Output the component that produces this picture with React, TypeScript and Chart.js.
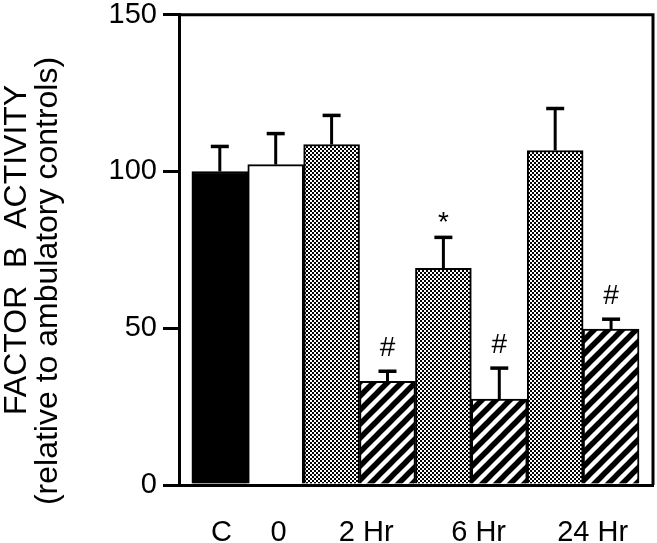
import React, { useEffect, useRef } from "react";
import { Chart, registerables } from "chart.js";

Chart.register(...registerables);

// ---- data ----
const barPositions = [0, 1, 2, 3, 4, 5, 6, 7];
const barGroups = ["C", "0", "2 Hr", "2 Hr", "6 Hr", "6 Hr", "24 Hr", "24 Hr"];
const barValues = [100, 102.2, 108.6, 33.1, 69.1, 27.4, 106.7, 49.7];
const barErrors = [8.3, 10.2, 9.6, 3.5, 10.2, 10.2, 13.7, 3.5];
const barFills = ["black", "white", "dots", "stripes", "dots", "stripes", "dots", "stripes"];
const barMarks = ["", "", "", "#", "*", "#", "", "#"];
const xTickPositions = [0.03, 1.05, 2.62, 4.63, 6.67];
const xTickLabels = ["C", "0", "2 Hr", "6 Hr", "24 Hr"];
const yTicks = [0, 50, 100, 150];
const yTitle = ["FACTOR  B  ACTIVITY", "(relative to ambulatory controls)       "];

const FONT = "'Liberation Sans', Arial, Helvetica, sans-serif";

function makeDots(): CanvasPattern | string {
  const c = document.createElement("canvas");
  c.width = 4;
  c.height = 4;
  const g = c.getContext("2d")!;
  g.fillStyle = "#ffffff";
  g.fillRect(0, 0, 4, 4);
  g.fillStyle = "#000000";
  g.fillRect(0, 0, 2, 2);
  g.fillRect(2, 2, 2, 2);
  return g.createPattern(c, "repeat") || "#888";
}

function makeStripes(): CanvasPattern | string {
  const s = 14;
  const c = document.createElement("canvas");
  c.width = s;
  c.height = s;
  const g = c.getContext("2d")!;
  g.fillStyle = "#ffffff";
  g.fillRect(0, 0, s, s);
  g.strokeStyle = "#000000";
  g.lineWidth = 5.5;
  g.lineCap = "square";
  for (const off of [-s, 0, s]) {
    g.beginPath();
    g.moveTo(off - 2, s + 2);
    g.lineTo(off + s + 2, -2);
    g.stroke();
  }
  return g.createPattern(c, "repeat") || "#444";
}

const frameAndErrors = {
  id: "frameAndErrors",
  afterDatasetsDraw(chart: any) {
    const ctx = chart.ctx as CanvasRenderingContext2D;
    const y = chart.scales.y;
    const meta = chart.getDatasetMeta(0);
    ctx.save();
    ctx.strokeStyle = "#000";
    ctx.fillStyle = "#000";
    meta.data.forEach((el: any, i: number) => {
      const top = y.getPixelForValue(barValues[i]);
      const cap = y.getPixelForValue(barValues[i] + barErrors[i]);
      ctx.lineWidth = 3;
      ctx.beginPath();
      ctx.moveTo(el.x, top);
      ctx.lineTo(el.x, cap);
      ctx.stroke();
      ctx.lineWidth = 3.5;
      ctx.beginPath();
      ctx.moveTo(el.x - 9, cap + 1);
      ctx.lineTo(el.x + 9, cap + 1);
      ctx.stroke();
      const mark = barMarks[i];
      if (mark) {
        ctx.font = `28px ${FONT}`;
        ctx.textAlign = "center";
        ctx.textBaseline = "alphabetic";
        const m = ctx.measureText(mark);
        ctx.fillText(mark, el.x, cap - 14 - m.actualBoundingBoxDescent);
      }
    });
    ctx.restore();
  },
  afterDraw(chart: any) {
    const ctx = chart.ctx as CanvasRenderingContext2D;
    const a = chart.chartArea;
    ctx.save();
    ctx.strokeStyle = "#000";
    ctx.lineWidth = 3;
    ctx.beginPath();
    ctx.moveTo(a.left, a.top);
    ctx.lineTo(a.right, a.top);
    ctx.lineTo(a.right, a.bottom);
    ctx.stroke();
    ctx.restore();
  },
};

export default function App() {
  const ref = useRef<HTMLCanvasElement>(null);

  useEffect(() => {
    if (!ref.current) return;
    const dots = makeDots();
    const stripes = makeStripes();
    const fills = barFills.map((f) =>
      f === "dots" ? dots : f === "stripes" ? stripes : f === "black" ? "#000000" : "#ffffff"
    );
    const chart = new Chart(ref.current, {
      type: "bar",
      data: {
        datasets: [
          {
            label: "Factor B activity",
            data: barPositions.map((x, i) => ({ x, y: barValues[i] })) as any,
            backgroundColor: fills as any,
            borderColor: "#000000",
            borderWidth: 2,
            categoryPercentage: 1,
            barPercentage: 1,
          },
        ],
      },
      options: {
        responsive: false,
        animation: false,
        layout: { padding: { top: 14, right: 4, left: 0, bottom: 0 } },
        plugins: {
          legend: { display: false },
          tooltip: { enabled: false },
        },
        scales: {
          x: {
            type: "linear",
            min: -0.73,
            max: 7.75,
            offset: false,
            grid: { display: false, offset: false },
            border: { display: true, color: "#000", width: 3 },
            afterBuildTicks: (s: any) => {
              s.ticks = xTickPositions.map((v) => ({ value: v }));
            },
            afterFit: (s: any) => {
              s.height = 58;
            },
            ticks: {
              color: "#000",
              padding: 23,
              maxRotation: 0,
              autoSkip: false,
              font: { family: FONT, size: 29 },
              callback: (v: any) => {
                const idx = xTickPositions.indexOf(Number(v));
                return idx >= 0 ? xTickLabels[idx] : "";
              },
            },
          },
          y: {
            min: 0,
            max: 150,
            afterBuildTicks: (s: any) => {
              s.ticks = yTicks.map((v) => ({ value: v }));
            },
            afterFit: (s: any) => {
              s.width = 179;
            },
            grid: {
              drawOnChartArea: false,
              drawTicks: true,
              tickLength: 16,
              color: "#000",
              lineWidth: 3,
            },
            border: { display: true, color: "#000", width: 3 },
            ticks: {
              color: "#000",
              padding: 6,
              font: { family: FONT, size: 29, lineHeight: 0.6 },
            },
            title: {
              display: true,
              text: yTitle,
              color: "#000",
              padding: { top: 2, bottom: 0 },
              font: { family: FONT, size: 32, lineHeight: 0.97 },
            },
          },
        },
      },
      plugins: [frameAndErrors],
    });
    return () => chart.destroy();
  }, []);

  return (
    <div style={{ position: "fixed", left: 0, top: 0, width: 657, height: 543, background: "#fff" }}>
      <canvas ref={ref} width={657} height={543} />
    </div>
  );
}
